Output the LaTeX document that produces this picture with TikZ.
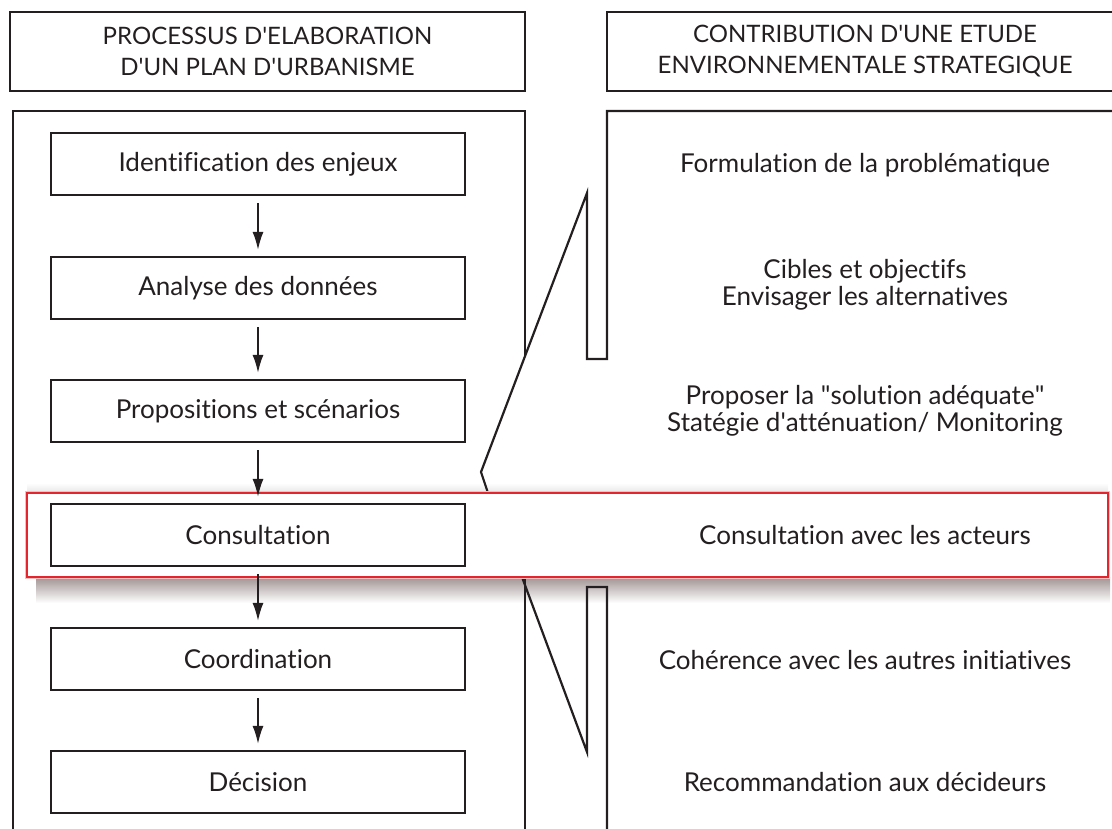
\documentclass[tikz,border=0pt]{standalone}
\usepackage{fontspec}
\setmainfont{Lato}[Ligatures={NoCommon,NoRequired,NoContextual}]
\usetikzlibrary{arrows.meta}
\definecolor{ink}{HTML}{231F20}
\definecolor{hlred}{HTML}{E3262E}
\definecolor{shad}{RGB}{160,146,146}
\newcommand{\ap}{\textquotesingle}
\begin{document}
\begin{tikzpicture}[x=1pt,y=-1pt,
  frame/.style={draw=ink,line width=2.2pt},
  txt/.style={text=ink,font=\fontsize{26}{27}\selectfont,align=center,inner sep=0pt},
  stepbox/.style={frame,txt,minimum width=414pt,minimum height=62pt},
  headbox/.style={frame,txt,font=\fontsize{24}{31}\selectfont,minimum height=79pt},
  arr/.style={draw=ink,line width=1.7pt,-{Latex[length=18pt,width=11pt]},shorten <=7pt,shorten >=6pt},
  hlbox/.style={draw=hlred,line width=1.8pt,fill=white,minimum width=1081pt,minimum height=84pt,inner sep=0pt}
]
\useasboundingbox (0,0) rectangle (1112,828);
\clip (0,0) rectangle (1112,828);

% headers
\node[headbox,minimum width=515pt] (hL) at (267.5,51.5) {PROCESSUS D\ap ELABORATION\\D\ap UN PLAN D\ap URBANISME};
\node[headbox,minimum width=516pt] (hR) at (865,51.5) {CONTRIBUTION D\ap UNE ETUDE\\ENVIRONNEMENTALE STRATEGIQUE};

% shadow of highlight
\shade[top color=shad,bottom color=white] (36,577) rectangle (1110,603);
\shade[top color=white,bottom color=black!10] (27,483) rectangle (1108,493);

% left main panel
\draw[frame] (13,830) -- (13,111) -- (525,111) -- (525,356);
\draw[frame] (525,578) -- (525,830);
% right main panel with zoom funnel
\draw[frame,line join=miter] (1125,111) -- (607,111) -- (607,359) -- (587,359) -- (587,193) -- (481,472) -- (488,493);
\draw[frame,line join=miter] (522,577) -- (587,752) -- (587,587) -- (607,587) -- (607,830);

% highlight box
\node[draw=hlred!30,line width=4pt,minimum width=1081pt,minimum height=84pt] at (567.5,535) {};
\node[hlbox] (hl) at (567.5,535) {};

% process steps
\node[stepbox] (b1) at (258,164) {Identification des enjeux};
\node[stepbox] (b2) at (258,288) {Analyse des données};
\node[stepbox] (b3) at (258,411) {Propositions et scénarios};
\node[stepbox] (b4) at (258,535) {Consultation};
\node[stepbox] (b5) at (258,659) {Coordination};
\node[stepbox] (b6) at (258,782) {Décision};

\draw[arr] (b1) -- (b2);
\draw[arr] (b2) -- (b3);
\draw[arr] (b3) -- (b4);
\draw[arr] (b4) -- (b5);
\draw[arr] (b5) -- (b6);

% contributions
\node[txt] (r1) at (865,165) {Formulation de la problématique};
\node[txt] (r2) at (865,285) {Cibles et objectifs\\Envisager les alternatives};
\node[txt] (r3) at (865,411) {Proposer la \textquotedbl solution adéquate\textquotedbl\\Statégie d\ap atténuation/ Monitoring};
\node[txt] (r4) at (865,535) {Consultation avec les acteurs};
\node[txt] (r5) at (865,660) {Cohérence avec les autres initiatives};
\node[txt] (r6) at (865,782) {Recommandation aux décideurs};
\end{tikzpicture}
\end{document}
